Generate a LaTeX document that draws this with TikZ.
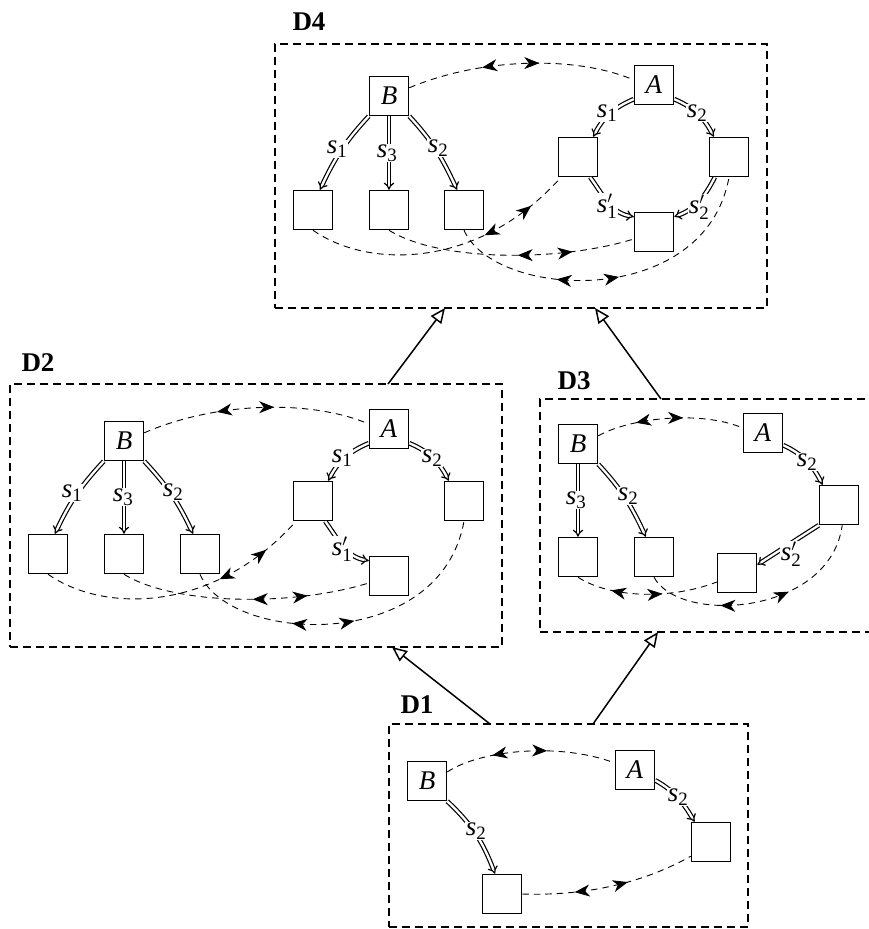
\documentclass[tikz,border=0pt]{standalone}
\usepackage{fontspec}
\setmainfont{Liberation Serif}
\usetikzlibrary{arrows.meta,decorations.markings,calc}
\newcommand{\lbl}[1]{\textit{s}\textsubscript{#1}}
\newcommand{\lblp}[1]{\textit{s}$^{\prime}_{\mbox{\fontsize{18.9}{20}\selectfont #1}}$}
\begin{document}
\begin{tikzpicture}[x=1pt,y=1pt, font=\fontsize{27}{32}\selectfont,
  bx/.style={draw, line width=1.5pt, minimum size=39pt, inner sep=0pt},
  lb/.style={fill=white, inner sep=0.6pt},
  dbl/.style={double, double distance=2.3pt, line width=1.2pt, -{Implies[length=7pt,width=15pt]}},
  dsh/.style={line width=0.9pt, dash pattern=on 6.5pt off 5pt},
  dbox/.style={draw, line width=1.8pt, dash pattern=on 8pt off 5pt, outer sep=0pt, inner sep=0pt, anchor=north west},
  conn/.style={line width=1.5pt, -{Triangle[open,length=15pt,width=13pt]}},
  ttl/.style={font=\fontsize{27}{32}\selectfont\bfseries},
  bi/.style 2 args={postaction={decorate,decoration={markings,
     mark=at position #1 with {\arrowreversed{Stealth[length=15pt,width=12pt,inset=4.5pt]}},
     mark=at position #2 with {\arrow{Stealth[length=15pt,width=12pt,inset=4.5pt]}}}}}]
\useasboundingbox (0,0) rectangle (869,-929);

% frames
\node[dbox, minimum width=492pt, minimum height=264pt] (D4) at (275,-44) {};
\node[dbox, minimum width=492pt, minimum height=263pt] (D2) at (10,-384) {};
\node[dbox, minimum width=345pt, minimum height=233pt] (D3) at (540,-399) {};
\node[dbox, minimum width=359pt, minimum height=203pt] (D1) at (389,-724) {};
\node[ttl] (t4) at (309,-22) {D4};
\node[ttl] (t2) at (38,-363) {D2};
\node[ttl] (t3) at (574,-381) {D3};
\node[ttl] (t1) at (417,-705) {D1};

% ---------- D4 ----------
\node[bx] (d4B) at (389,-96) {\textit{B}};
\node[bx] (d4b1) at (313,-210) {};
\node[bx] (d4b3) at (389,-210) {};
\node[bx] (d4b2) at (464,-210) {};
\node[bx] (d4A) at (654,-85) {\textit{A}};
\node[bx] (d4a1) at (578,-157) {};
\node[bx] (d4a2) at (729,-157) {};
\node[bx] (d4a3) at (654,-232) {};
\draw[dsh,bi={0.33}{0.58}] (d4B.22) .. controls (480,-58) and (575,-55) .. (d4A.166);
\draw[dsh,bi={0.65}{0.85}] (d4b1.south) .. controls (370,-270) and (480,-268) .. (d4a1.-130);
\draw[dsh,bi={0.53}{0.75}] (d4b3.south) .. controls (440,-262) and (560,-262) .. (d4a3.-161);
\draw[dsh,bi={0.33}{0.52}] (d4b2.south) .. controls (495,-300) and (705,-310) .. (d4a2.south);
\draw[dbl] (d4B.south west) to[out=-133,in=65] (d4b1.71);
\draw[dbl] (d4B.south) -- (d4b3.north);
\draw[dbl] (d4B.south east) to[out=-47,in=115] (d4b2.109);
\draw[dbl] (d4A.215) to[out=-157,in=63] (d4a1.53);
\draw[dbl] (d4A.-35) to[out=-23,in=117] (d4a2.127);
\draw[dbl] (d4a1.-59) to[out=-54,in=170] (d4a3.143);
\draw[dbl] (d4a2.-125) to[out=-117,in=20] (d4a3.37);
\node[lb] (l4s1) at (337,-149) {\lbl{1}};
\node[lb] (l4s3) at (387,-153) {\lbl{3}};
\node[lb] (l4s2) at (438,-148) {\lbl{2}};
\node[lb] (l4t1) at (607,-113) {\lbl{1}};
\node[lb] (l4t2) at (697,-113) {\lbl{2}};
\node[lb] (l4u1) at (607,-206) {\lblp{1}};
\node[lb] (l4u2) at (699,-207) {\lblp{2}};

% ---------- D2 ----------
\node[bx] (d2B) at (124,-441) {\textit{B}};
\node[bx] (d2b1) at (48,-554) {};
\node[bx] (d2b3) at (124,-554) {};
\node[bx] (d2b2) at (200,-554) {};
\node[bx] (d2A) at (389,-429) {\textit{A}};
\node[bx] (d2a1) at (313,-501) {};
\node[bx] (d2a2) at (464,-501) {};
\node[bx] (d2a3) at (389,-576) {};
\draw[dsh,bi={0.33}{0.58}] (d2B.22) .. controls (215,-402) and (310,-399) .. (d2A.166);
\draw[dsh,bi={0.65}{0.85}] (d2b1.south) .. controls (105,-614) and (215,-612) .. (d2a1.-130);
\draw[dsh,bi={0.53}{0.75}] (d2b3.south) .. controls (175,-606) and (295,-606) .. (d2a3.-161);
\draw[dsh,bi={0.33}{0.52}] (d2b2.south) .. controls (230,-644) and (440,-654) .. (d2a2.south);
\draw[dbl] (d2B.south west) to[out=-133,in=65] (d2b1.71);
\draw[dbl] (d2B.south) -- (d2b3.north);
\draw[dbl] (d2B.south east) to[out=-47,in=115] (d2b2.109);
\draw[dbl] (d2A.215) to[out=-157,in=63] (d2a1.53);
\draw[dbl] (d2A.-35) to[out=-23,in=117] (d2a2.127);
\draw[dbl] (d2a1.-59) to[out=-54,in=170] (d2a3.143);
\node[lb] (l2s1) at (72,-493) {\lbl{1}};
\node[lb] (l2s3) at (123,-497) {\lbl{3}};
\node[lb] (l2s2) at (173,-492) {\lbl{2}};
\node[lb] (l2t1) at (342,-458) {\lbl{1}};
\node[lb] (l2t2) at (432,-458) {\lbl{2}};
\node[lb] (l2u1) at (342,-549) {\lblp{1}};

% ---------- D3 ----------
\node[bx] (d3B) at (578,-444) {\textit{B}};
\node[bx] (d3b3) at (578,-557) {};
\node[bx] (d3b2) at (654,-557) {};
\node[bx] (d3A) at (763,-433) {\textit{A}};
\node[bx] (d3a2) at (839,-505) {};
\node[bx] (d3a3) at (737,-573) {};
\draw[dsh,bi={0.27}{0.59}] (d3B.22) .. controls (630,-418) and (700,-410) .. (d3A.166);
\draw[dsh,bi={0.25}{0.61}] (d3b3.south) .. controls (610,-598) and (670,-600) .. (d3a3.-156);
\draw[dsh,bi={0.32}{0.62}] (d3b2.south) .. controls (680,-625) and (830,-615) .. (d3a2.-81);
\draw[dbl] (d3B.south) -- (d3b3.north);
\draw[dbl] (d3B.south east) to[out=-47,in=115] (d3b2.112);
\draw[dbl] (d3A.-31) to[out=-25,in=117] (d3a2.129);
\draw[dbl] (d3a2.-135) -- (d3a3.22);
\node[lb] (l3s3) at (576,-500) {\lbl{3}};
\node[lb] (l3s2) at (628,-496) {\lbl{2}};
\node[lb] (l3t2) at (807,-462) {\lbl{2}};
\node[lb] (l3u2) at (791,-554) {\lblp{2}};

% ---------- D1 ----------
\node[bx] (d1B) at (427,-781) {\textit{B}};
\node[bx] (d1b2) at (502,-894) {};
\node[bx] (d1A) at (635,-770) {\textit{A}};
\node[bx] (d1a2) at (711,-842) {};
\draw[dsh,bi={0.28}{0.6}] (d1B.24) .. controls (480,-750) and (560,-742) .. (d1A.161);
\draw[dsh,bi={0.3}{0.61}] (d1b2.east) .. controls (580,-896) and (640,-885) .. (d1a2.-145);
\draw[dbl] (d1B.south east) to[out=-43,in=111] (d1b2.109);
\draw[dbl] (d1A.-27) to[out=-29,in=121] (d1a2.129);
\node[lb] (l1s2) at (476,-831) {\lbl{2}};
\node[lb] (l1t2) at (678,-797) {\lbl{2}};

% ---------- connectors between frames ----------
\draw[conn] ([xshift=378pt]D2.north west) -- ([xshift=170pt]D4.south west);
\draw[conn] ([xshift=121pt]D3.north west) -- ([xshift=320pt]D4.south west);
\draw[conn] ([xshift=101pt]D1.north west) -- ([xshift=382pt]D2.south west);
\draw[conn] ([xshift=204pt]D1.north west) -- ([xshift=118pt]D3.south west);
\end{tikzpicture}
\end{document}
